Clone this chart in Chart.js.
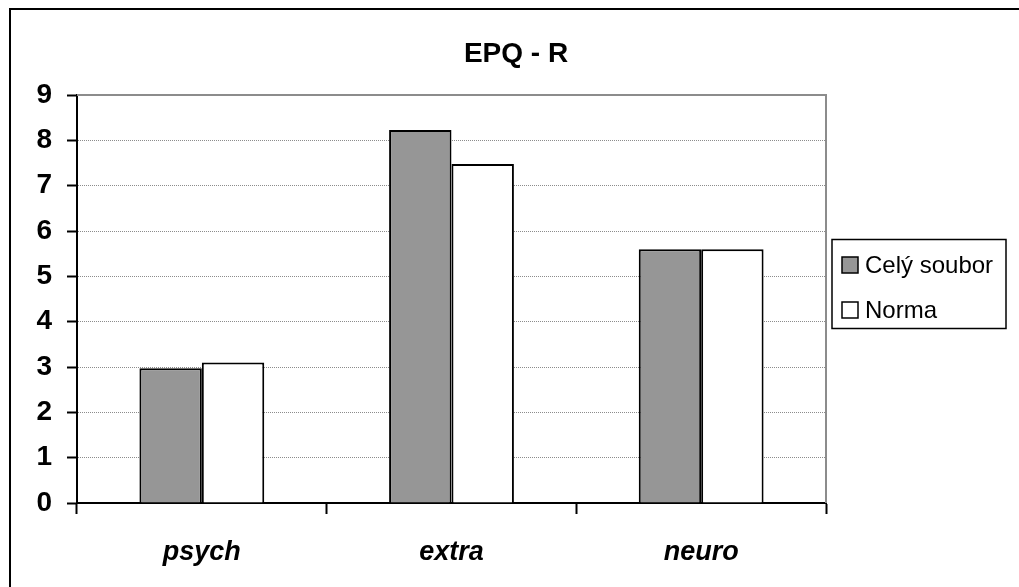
<!DOCTYPE html>
<html>
<head>
<meta charset="utf-8">
<script src="https://cdn.jsdelivr.net/npm/chart.js@4/dist/chart.umd.min.js"></script>
<style>
  html, body { margin: 0; padding: 0; background: #fff; }
  #wrap { width: 1019px; height: 587px; position: relative; }
</style>
</head>
<body>
<div id="wrap"><canvas id="chart"></canvas></div>
<script>
// data
const categories = ['psych', 'extra', 'neuro'];
const celySoubor = [2.97, 8.23, 5.6];
const norma = [3.1, 7.48, 5.6];
const seriesNames = ['Celý soubor', 'Norma'];
const chartTitle = 'EPQ - R';

const fontFamily = 'Arial, "Liberation Sans", sans-serif';

// title, legend box, plot frame and outer border
const decorPlugin = {
  id: 'decor',
  afterDraw(chart) {
    const ctx = chart.ctx;
    const area = chart.chartArea;
    ctx.save();

    // plot frame (top + right) in gray
    ctx.strokeStyle = '#8c8c8c';
    ctx.lineWidth = 2;
    ctx.beginPath();
    ctx.moveTo(area.left, area.top);
    ctx.lineTo(area.right, area.top);
    ctx.lineTo(area.right, area.bottom);
    ctx.stroke();

    // outer border
    ctx.strokeStyle = '#000';
    ctx.lineWidth = 2;
    ctx.beginPath();
    ctx.moveTo(10, 587);
    ctx.lineTo(10, 9);
    ctx.lineTo(1019, 9);
    ctx.stroke();

    // title
    ctx.fillStyle = '#000';
    ctx.font = 'bold 28px ' + fontFamily;
    ctx.textAlign = 'center';
    ctx.textBaseline = 'alphabetic';
    ctx.fillText(chartTitle, 516, 62);

    // legend
    ctx.lineWidth = 1.5;
    ctx.strokeStyle = '#000';
    ctx.strokeRect(832, 239.5, 174, 89);
    ctx.font = '24px ' + fontFamily;
    ctx.textAlign = 'left';
    ctx.textBaseline = 'middle';
    chart.data.datasets.forEach(function(ds, i) {
      const y = 265 + i * 45;
      ctx.fillStyle = ds.backgroundColor;
      ctx.fillRect(842, y - 8, 16, 16);
      ctx.strokeRect(842, y - 8, 16, 16);
      ctx.fillStyle = '#000';
      ctx.fillText(ds.label, 865, y + 1);
    });

    ctx.restore();
  }
};

const ctx = document.getElementById('chart').getContext('2d');
new Chart(ctx, {
  type: 'bar',
  data: {
    labels: categories,
    datasets: [
      {
        label: seriesNames[0],
        data: celySoubor,
        backgroundColor: '#969696',
        borderColor: '#000',
        borderWidth: 2
      },
      {
        label: seriesNames[1],
        data: norma,
        backgroundColor: '#ffffff',
        borderColor: '#000',
        borderWidth: 2
      }
    ]
  },
  options: {
    responsive: true,
    maintainAspectRatio: false,
    animation: false,
    categoryPercentage: 0.5,
    barPercentage: 1.0,
    layout: {
      padding: { left: 0, right: 193, top: 95, bottom: 0 }
    },
    plugins: {
      legend: { display: false },
      title: { display: false },
      tooltip: { enabled: false }
    },
    scales: {
      x: {
        afterFit(scale) { scale.height = 84; },
        grid: {
          offset: true,
          drawOnChartArea: false,
          drawTicks: true,
          tickLength: 11,
          tickColor: '#000',
          tickWidth: 2
        },
        border: { color: '#000', width: 2 },
        ticks: {
          color: '#000',
          padding: 22,
          font: { family: fontFamily, size: 27, weight: 'bold', style: 'italic' }
        }
      },
      y: {
        min: 0,
        max: 9,
        afterFit(scale) { scale.width = 77; },
        grid: {
          color: '#8c8c8c',
          lineWidth: 1,
          tickLength: 10,
          tickColor: '#000',
          tickWidth: 2
        },
        border: { color: '#000', width: 2, dash: [1, 1] },
        ticks: {
          stepSize: 1,
          color: '#000',
          padding: 15,
          font: { family: fontFamily, size: 28, weight: 'bold' }
        }
      }
    }
  },
  plugins: [decorPlugin]
});
</script>
</body>
</html>
